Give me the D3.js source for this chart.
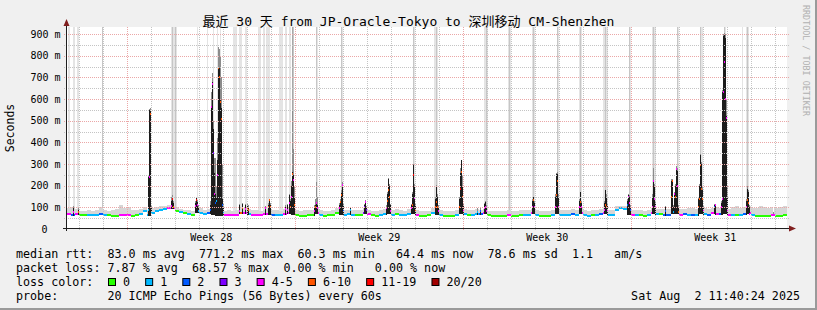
<!DOCTYPE html>
<html>
<head>
<meta charset="UTF-8">
<title>SmokePing 30 days</title>
<script src="https://d3js.org/d3.v7.min.js"></script>
<style>
  body { margin: 0; background: #f0f0f0; }
  svg text { font-family: "DejaVu Sans Mono", "Noto Sans CJK SC", monospace; white-space: pre; }
</style>
</head>
<body>
<div id="chart"></div>
<script>
// time range of the graph (30 days, 1 px per hour)
var startTime = Date.UTC(2025, 6, 3, 11, 40, 24);
var endTime = Date.UTC(2025, 7, 2, 11, 40, 24);
var bucketHours = 4;

var title = "最近 30 天 from JP-Oracle-Tokyo to 深圳移动 CM-Shenzhen";
var yTicks = [0, 100, 200, 300, 400, 500, 600, 700, 800, 900];
var weekLabels = ["Week 28", "Week 29", "Week 30", "Week 31"];
var lossLabels = ["0", "1", "2", "3", "4-5", "6-10", "11-19", "20/20"];

// median rtt per 4h bucket (ms), 6 buckets per day
var baseMedian = [
  68, 66, 70, 64, 63, 65,   66, 66, 68, 66, 63, 62,   62, 66, 65, 64, 62, 63,
  70, 85, 66, 75, 82, 88,   92, 96, 95, 85, 78, 72,   70, 66, 80, 74, 68, 75,
  70, 66, 66, 64, 65, 63,   66, 72, 74, 70, 66, 64,   63, 68, 70, 65, 64, 63,
  70, 74, 68, 63, 62, 62,   63, 65, 72, 66, 62, 63,   66, 72, 68, 64, 68, 66,
  64, 66, 74, 68, 63, 62,   64, 68, 74, 66, 70, 64,   63, 70, 74, 66, 62, 62,
  63, 72, 70, 64, 62, 62,   62, 66, 74, 68, 64, 66,   70, 68, 72, 63, 62, 62,
  62, 62, 66, 62, 62, 63,   66, 65, 72, 66, 62, 62,   62, 64, 72, 66, 64, 63,
  68, 66, 72, 64, 62, 63,   66, 70, 74, 66, 63, 90,   95, 92, 70, 66, 64, 63,
  62, 64, 74, 68, 70, 66,   66, 74, 76, 66, 68, 65,   66, 64, 76, 70, 64, 72,
  70, 68, 72, 64, 64, 63,   66, 70, 74, 66, 62, 62,   62, 62, 66, 62, 62, 63
];
// top of the light smoke per 4h bucket (ms)
var baseSmoke = [
  95, 100, 92, 85, 82, 88,    85, 90, 100, 88, 84, 86,    92, 110, 96, 100, 90, 88,
  92, 100, 90, 95, 100, 104,  105, 110, 108, 100, 92, 90, 88, 84, 100, 95, 88, 92,
  90, 86, 84, 85, 86, 84,     86, 95, 98, 92, 88, 86,     84, 90, 92, 88, 86, 84,
  92, 96, 90, 86, 84, 86,     88, 90, 96, 88, 84, 85,     90, 95, 92, 86, 90, 88,
  86, 90, 96, 90, 85, 84,     86, 92, 98, 88, 92, 86,     85, 92, 96, 88, 84, 84,
  84, 96, 92, 86, 84, 85,     84, 90, 98, 92, 86, 90,     92, 90, 94, 85, 84, 84,
  84, 84, 90, 85, 84, 86,     88, 86, 94, 88, 84, 84,     85, 88, 96, 90, 88, 86,
  92, 90, 96, 86, 85, 86,     90, 94, 98, 90, 86, 104,    108, 106, 94, 90, 88, 86,
  85, 88, 98, 92, 94, 92,     92, 98, 100, 92, 94, 96,    96, 92, 100, 96, 94, 98,
  100, 98, 96, 94, 100, 108,  96, 100, 104, 98, 96, 104,  100, 98, 102, 96, 100, 104
];
// loss colour index per 4h bucket (0 = no loss ... 7 = 20/20)
var baseLoss = [
  4, 2, 4, 0, 0, 1,   1, 1, 2, 1, 0, 0,   0, 4, 4, 4, 0, 0,
  1, 1, 1, 1, 1, 1,   1, 4, 4, 0, 1, 0,   1, 0, 4, 1, 1, 2,
  1, 1, 1, 4, 4, 4,   4, 5, 4, 1, 4, 4,   4, 4, 4, 2, 1, 1,
  4, 4, 4, 0, 0, 0,   0, 0, 4, 1, 0, 0,   0, 0, 4, 1, 1, 1,
  0, 0, 3, 4, 0, 0,   1, 1, 4, 1, 0, 1,   1, 1, 4, 4, 0, 0,
  0, 1, 4, 1, 0, 0,   0, 1, 4, 1, 0, 1,   1, 2, 4, 0, 0, 0,
  0, 0, 4, 0, 0, 0,   1, 1, 4, 1, 0, 0,   0, 1, 4, 1, 1, 1,
  2, 1, 4, 1, 1, 0,   1, 2, 4, 1, 1, 1,   1, 1, 2, 4, 1, 0,
  0, 1, 4, 1, 0, 2,   2, 4, 4, 4, 2, 1,   2, 1, 4, 1, 2, 4,
  4, 2, 4, 4, 1, 0,   1, 2, 4, 1, 0, 0,   0, 0, 4, 0, 0, 0
];
// hourly samples that stand out: [hour, median ms, dense smoke top ms, smoke top ms, loss index]
var spikes = [
  [6, 80, 95, 105, 4], [11, 78, 90, 100, 5],
  [81, 90, 240, 250, 1], [82, 240, 548, 555, 4], [83, 532, 548, 560, 5], [84, 80, 100, 110, 1],
  [104, 105, 130, 150, 4], [105, 140, 148, 155, 6], [106, 100, 120, 130, 5],
  [128, 105, 120, 130, 4], [129, 136, 141, 150, 6], [130, 110, 125, 135, 4], [131, 85, 100, 110, 1],
  [143, 90, 110, 130, 2], [144, 565, 570, 635, 4], [145, 672, 680, 720, 4], [146, 350, 460, 500, 3],
  [147, 160, 260, 330, 4], [148, 120, 160, 330, 2], [149, 130, 150, 200, 1], [150, 250, 320, 420, 4],
  [151, 745, 750, 840, 5], [152, 700, 745, 830, 5], [153, 587, 600, 800, 5], [154, 510, 560, 700, 5],
  [155, 110, 140, 300, 2], [156, 80, 100, 120, 1],
  [172, 85, 110, 115, 4], [175, 95, 115, 120, 5], [178, 92, 110, 115, 4], [180, 96, 112, 118, 5], [181, 90, 100, 110, 5],
  [198, 95, 100, 105, 4], [201, 100, 110, 120, 5], [202, 132, 135, 140, 5], [203, 100, 110, 120, 5],
  [218, 92, 100, 110, 4], [220, 90, 110, 115, 4], [222, 120, 155, 160, 4], [223, 100, 130, 140, 5],
  [224, 150, 200, 220, 4], [225, 255, 265, 550, 5], [226, 225, 250, 370, 4], [227, 110, 150, 200, 5],
  [247, 85, 95, 110, 4], [248, 101, 110, 140, 5], [249, 120, 124, 217, 4], [250, 95, 110, 150, 4],
  [272, 95, 110, 120, 4], [273, 124, 130, 140, 5], [274, 155, 165, 180, 5], [275, 201, 205, 215, 4], [276, 90, 110, 120, 2],
  [283, 90, 95, 100, 1],
  [297, 100, 110, 115, 3], [298, 124, 128, 135, 4], [299, 90, 100, 105, 3],
  [319, 95, 100, 110, 4], [320, 130, 160, 170, 5], [321, 178, 232, 235, 5], [322, 150, 200, 210, 5], [323, 85, 110, 115, 4],
  [344, 95, 110, 115, 4], [345, 110, 160, 170, 5], [346, 248, 294, 300, 6], [347, 143, 200, 210, 4], [348, 90, 110, 120, 5],
  [368, 100, 140, 150, 5], [369, 124, 200, 205, 5], [370, 101, 150, 160, 5], [371, 85, 100, 110, 4],
  [392, 100, 140, 150, 5], [393, 186, 260, 280, 6], [394, 263, 317, 320, 5], [395, 150, 200, 250, 5], [396, 90, 110, 120, 4],
  [410, 80, 85, 95, 1], [413, 85, 90, 100, 2],
  [417, 95, 115, 120, 4], [418, 100, 125, 130, 4], [419, 85, 100, 110, 4],
  [465, 100, 130, 140, 4], [466, 132, 147, 150, 5], [467, 100, 120, 130, 4],
  [488, 100, 150, 160, 4], [489, 155, 255, 260, 5], [490, 224, 255, 265, 5], [491, 100, 150, 160, 4],
  [512, 100, 130, 140, 4], [513, 125, 170, 172, 5], [514, 100, 120, 130, 4],
  [537, 90, 120, 130, 4], [538, 109, 178, 180, 5], [539, 100, 150, 160, 5], [540, 85, 110, 120, 4],
  [560, 110, 130, 140, 2], [561, 150, 155, 160, 4], [562, 120, 150, 155, 4], [563, 90, 100, 110, 2],
  [585, 100, 150, 160, 4], [586, 222, 226, 280, 4], [587, 140, 200, 210, 4], [588, 100, 120, 130, 4],
  [598, 85, 100, 105, 2],
  [604, 150, 224, 230, 5], [605, 222, 226, 230, 5], [606, 80, 100, 110, 1], [607, 163, 165, 170, 4],
  [608, 150, 200, 210, 5], [609, 278, 280, 290, 4], [610, 200, 270, 280, 4], [611, 80, 100, 110, 5],
  [631, 100, 140, 150, 5], [632, 140, 200, 210, 5], [633, 294, 340, 345, 5], [634, 186, 300, 310, 5],
  [635, 140, 180, 200, 5], [636, 90, 100, 110, 4],
  [647, 100, 110, 115, 2], [648, 109, 112, 115, 4],
  [654, 100, 120, 130, 4], [655, 140, 633, 640, 4], [656, 633, 890, 900, 4], [657, 771.2, 895, 905, 4],
  [658, 600, 880, 900, 4], [659, 513, 520, 600, 4], [660, 90, 150, 200, 4],
  [679, 100, 130, 140, 4], [680, 132, 186, 200, 5], [681, 120, 170, 180, 5], [682, 70, 100, 110, 4],
  [706, 65, 70, 80, 4]
];
// hours where some pings ran off the top of the graph: [hour, pings]
var offScale = [
  [1, 1], [2, 1], [6, 1], [7, 1], [10, 1], [11, 1], [35, 2],
  [104, 1], [105, 2], [106, 1], [107, 1], [108, 2], [109, 1], [130, 1],
  [140, 1], [146, 1], [150, 1], [153, 1],
  [166, 1], [167, 1], [168, 1], [169, 1], [172, 1], [173, 1], [174, 1], [178, 1], [179, 1],
  [191, 1], [192, 1], [193, 1], [196, 1], [197, 1], [199, 1], [200, 1], [201, 1], [202, 1],
  [212, 1], [213, 1], [214, 1], [215, 1], [218, 1], [219, 1], [222, 1], [223, 1], [225, 3], [226, 2],
  [249, 2], [250, 1], [274, 2], [275, 1], [346, 2], [347, 1],
  [367, 1], [368, 1], [369, 2], [370, 1], [417, 1], [418, 1], [419, 2], [420, 1],
  [441, 1], [442, 2], [443, 1], [465, 1], [466, 2], [467, 1], [490, 2], [491, 1],
  [512, 1], [513, 2], [514, 1], [536, 1], [537, 1], [538, 2], [539, 1], [540, 1],
  [562, 2], [563, 1], [585, 1], [586, 2], [587, 1], [588, 1], [610, 2], [611, 1],
  [633, 2], [634, 1], [635, 1], [657, 2], [658, 1], [675, 1], [679, 1], [680, 2], [681, 1]
];

var rttStats = [83.0, 771.2, 60.3, 64.4, 78.6];
var amPerS = 1.1;
var lossStats = [7.87, 68.57, 0.00, 0.00];
var probeText = "20 ICMP Echo Pings (56 Bytes) every 60s";
var stampText = "Sat Aug  2 11:40:24 2025";

(function(d3) {

    var width = 817, height = 310;
    var plotLeft = 67, plotRight = 787, plotTop = 27, plotBottom = 229;
    var charW = 7.04;

    var lossColors = ["#26ff00", "#00b8ff", "#0059ff", "#7e00ff", "#ff00ff", "#ff5500", "#ff0000", "#a10000"];

    var svg = d3.select('#chart')
        .append('svg')
            .attr('width', width)
            .attr('height', height)
            .style('display', 'block');

    svg.append('rect')
        .attr('width', width).attr('height', height)
        .attr('fill', '#f0f0f0');
    svg.append('path')
        .attr('d', 'M0,309 H816 V0')
        .attr('fill', 'none').attr('stroke', '#9a9a9a').attr('stroke-width', 2);

    var x = d3.scaleUtc()
        .domain([new Date(startTime), new Date(endTime)])
        .range([plotLeft, plotRight]);
    var y = d3.scaleLinear()
        .domain([0, 933])
        .range([plotBottom, plotTop]);

    var hourAt = function(h) { return new Date(startTime + h * 3600e3); };

    svg.append('rect')
        .attr('x', plotLeft).attr('y', plotTop)
        .attr('width', plotRight - plotLeft).attr('height', plotBottom - plotTop)
        .attr('fill', '#ffffff');

    // hourly series built from buckets and spike samples
    var spikeByHour = new Map(spikes.map(function(s) { return [s[0], s]; }));
    var series = d3.range(720).map(function(h) {
        var b = Math.floor(h / bucketHours);
        var s = spikeByHour.get(h);
        return {
            h: h,
            base: baseMedian[b],
            med: s ? s[1] : baseMedian[b],
            dense: s ? s[2] : null,
            top: s ? s[3] : baseSmoke[b],
            loss: s ? s[4] : baseLoss[b]
        };
    });
    var colX = function(h) { return Math.round(x(hourAt(h))); };
    var colW = function(h) { return Math.max(1, Math.round(x(hourAt(h + 1))) - Math.round(x(hourAt(h)))); };

    var plot = svg.append('g').attr('shape-rendering', 'crispEdges');

    // off-scale pings
    var offShade = d3.scaleOrdinal().domain([1, 2, 3]).range(['#e4e4e4', '#c6c6c6', '#a8a8a8']);
    plot.selectAll('.off')
        .data(offScale)
        .enter().append('rect')
        .attr('class', 'off')
        .attr('x', function(d) { return colX(d[0]); })
        .attr('width', function(d) { return colW(d[0]); })
        .attr('y', plotTop)
        .attr('height', function(d) { return y(baseMedian[Math.floor(d[0] / bucketHours)]) - plotTop; })
        .attr('fill', function(d) { return offShade(d[1]); });

    // light smoke
    plot.selectAll('.smoke')
        .data(series)
        .enter().append('rect')
        .attr('class', 'smoke')
        .attr('x', function(d) { return colX(d.h); })
        .attr('width', function(d) { return colW(d.h); })
        .attr('y', function(d) { return y(d.top); })
        .attr('height', function(d) { return Math.max(0, y(d.base) - y(d.top) + 1); })
        .attr('fill', function(d) { return d.dense === null ? '#d6d6d6' : '#8c8c8c'; });

    // dense smoke of the spikes
    var dense = series.filter(function(d) { return d.dense !== null; });
    plot.selectAll('.dense')
        .data(dense)
        .enter().append('rect')
        .attr('class', 'dense')
        .attr('x', function(d) { return colX(d.h); })
        .attr('width', function(d) { return colW(d.h); })
        .attr('y', function(d) { return y(d.dense); })
        .attr('height', function(d) { return Math.max(0, y(d.base) - y(d.dense) + 1); })
        .attr('fill', '#1c1c1c');

    // grid
    var grid = svg.append('g').attr('fill', 'none').attr('stroke-dasharray', '1,1').attr('shape-rendering', 'crispEdges');
    var minorColor = '#c4c4c4', majorColor = '#eba7a7';
    var minorY = d3.range(50, 900, 100);
    grid.selectAll('.hmin').data(minorY).enter().append('line')
        .attr('x1', plotLeft - 3).attr('x2', plotRight + 2)
        .attr('y1', function(d) { return Math.round(y(d)) + 0.5; })
        .attr('y2', function(d) { return Math.round(y(d)) + 0.5; })
        .attr('stroke', minorColor);
    grid.selectAll('.hmaj').data(yTicks.slice(1)).enter().append('line')
        .attr('x1', plotLeft - 3).attr('x2', plotRight + 2)
        .attr('y1', function(d) { return Math.round(y(d)) + 0.5; })
        .attr('y2', function(d) { return Math.round(y(d)) + 0.5; })
        .attr('stroke', majorColor);

    var weekStarts = d3.utcSunday.range(new Date(startTime), new Date(endTime));
    var days = d3.utcDay.range(new Date(startTime), new Date(endTime))
        .filter(function(d) { return d.getUTCDay() !== 0; });
    grid.selectAll('.vmin').data(days).enter().append('line')
        .attr('x1', function(d) { return Math.round(x(d)) + 0.5; })
        .attr('x2', function(d) { return Math.round(x(d)) + 0.5; })
        .attr('y1', plotTop).attr('y2', plotBottom + 2)
        .attr('stroke', minorColor);
    grid.selectAll('.vmaj').data(weekStarts).enter().append('line')
        .attr('x1', function(d) { return Math.round(x(d)) + 0.5; })
        .attr('x2', function(d) { return Math.round(x(d)) + 0.5; })
        .attr('y1', plotTop).attr('y2', plotBottom + 2)
        .attr('stroke', majorColor);

    // median, coloured by loss
    plot.append('g').selectAll('rect')
        .data(series)
        .enter().append('rect')
        .attr('x', function(d) { return colX(d.h); })
        .attr('width', function(d) { return colW(d.h); })
        .attr('y', function(d) { return Math.round(y(d.med)) - 1; })
        .attr('height', 2)
        .attr('fill', function(d) { return lossColors[d.loss]; });

    // axes
    svg.append('line')
        .attr('x1', 66.5).attr('x2', 66.5).attr('y1', plotBottom + 2).attr('y2', 22)
        .attr('stroke', '#1f1f1f');
    svg.append('path')
        .attr('d', 'M63.5,26 L66.5,19 L69.5,26 Z')
        .attr('fill', '#801f1f');
    svg.append('line')
        .attr('x1', 63).attr('x2', plotRight + 3).attr('y1', 228.5).attr('y2', 228.5)
        .attr('stroke', '#1f1f1f');
    svg.append('path')
        .attr('d', 'M789,225.5 L796,228.5 L789,231.5 Z')
        .attr('fill', '#801f1f');

    // y labels
    svg.selectAll('.ylab')
        .data(yTicks)
        .enter().append('text')
        .attr('x', function(d) { return d === 0 ? 47.5 : 60.5; })
        .attr('y', function(d) { return y(d) + 3.5; })
        .attr('text-anchor', 'end')
        .attr('font-size', '10px')
        .text(function(d) { return d === 0 ? '0' : d + ' m'; });

    // week labels
    svg.selectAll('.xlab')
        .data(weekLabels)
        .enter().append('text')
        .attr('x', function(d, i) { return x(d3.utcHour.offset(weekStarts[i], 84)); })
        .attr('y', 241)
        .attr('text-anchor', 'middle')
        .attr('font-size', '10px')
        .text(function(d) { return d; });

    svg.append('text')
        .attr('x', 408.5).attr('y', 25.5)
        .attr('text-anchor', 'middle')
        .attr('font-size', '13px')
        .text(title);

    svg.append('text')
        .attr('transform', 'translate(14,128) rotate(-90)')
        .attr('text-anchor', 'middle')
        .attr('font-size', '11.5px')
        .text('Seconds');

    svg.append('text')
        .attr('transform', 'translate(803,5) rotate(90)')
        .attr('font-size', '8.4px')
        .attr('fill', '#b0b0b0')
        .text('RRDTOOL / TOBI OETIKER');

    // legend
    var rttLine = 'median rtt:  ' + rttStats[0].toFixed(1) + ' ms avg  ' + rttStats[1].toFixed(1) + ' ms max  ' +
        rttStats[2].toFixed(1) + ' ms min   ' + rttStats[3].toFixed(1) + ' ms now  ' +
        rttStats[4].toFixed(1) + ' ms sd  ' + amPerS.toFixed(1) + '   am/s';
    var lossLine = 'packet loss: ' + lossStats[0].toFixed(2) + ' % avg  ' + lossStats[1].toFixed(2) + ' % max  ' +
        lossStats[2].toFixed(2) + ' % min   ' + lossStats[3].toFixed(2) + ' % now';
    var rows = [rttLine, lossLine, 'loss color:', 'probe:       ' + probeText];
    var legend = svg.append('g').attr('font-size', '11.7px');
    legend.selectAll('.row')
        .data(rows)
        .enter().append('text')
        .attr('x', 16)
        .attr('y', function(d, i) { return 258 + i * 14; })
        .text(function(d) { return d; });
    legend.append('text')
        .attr('x', 800).attr('y', 300)
        .attr('text-anchor', 'end')
        .text(stampText);

    var boxX = [];
    lossLabels.reduce(function(pos, lab) {
        boxX.push(pos);
        return pos + 9 + (lab.length + 3) * charW;
    }, 108.5);
    var item = legend.selectAll('.loss')
        .data(lossLabels)
        .enter().append('g')
        .attr('transform', function(d, i) { return 'translate(' + boxX[i] + ',278.5)'; });
    item.append('rect')
        .attr('width', 7).attr('height', 7)
        .attr('fill', function(d, i) { return lossColors[i]; })
        .attr('stroke', '#000');
    item.append('text')
        .attr('x', 14.5).attr('y', 7.5)
        .text(function(d) { return d; });

})(window.d3);
</script>
</body>
</html>
